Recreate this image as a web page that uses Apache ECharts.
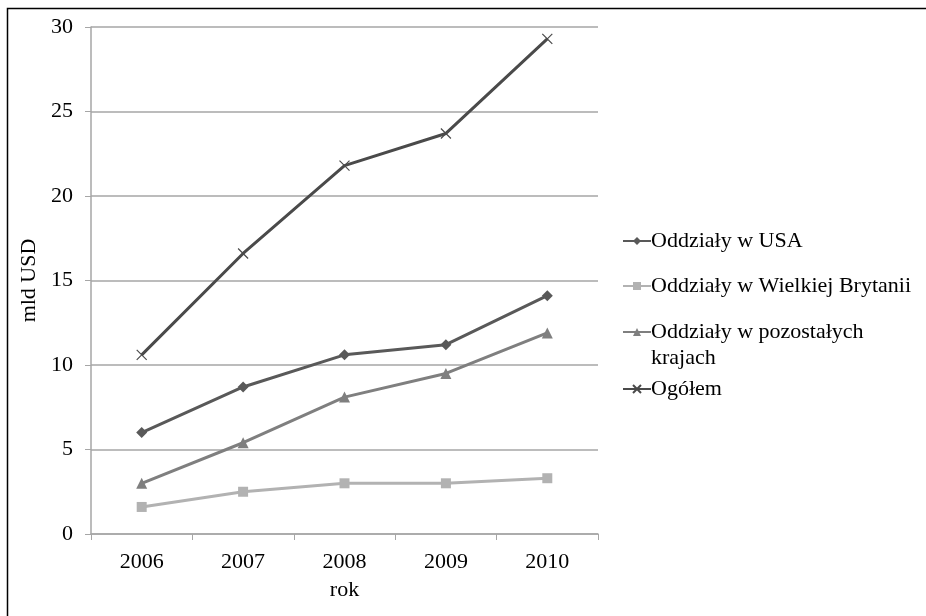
<!DOCTYPE html>
<html><head><meta charset="utf-8">
<script src="https://cdn.jsdelivr.net/npm/echarts@6/dist/echarts.min.js"></script>
<style>html,body{margin:0;padding:0;background:#fff}#c{width:926px;height:616px}</style>
</head><body><div id="c"></div>
<script>
const categories = ['2006','2007','2008','2009','2010'];
const usa = [6.0, 8.7, 10.6, 11.2, 14.1];
const uk = [1.6, 2.5, 3.0, 3.0, 3.3];
const other = [3.0, 5.4, 8.1, 9.5, 11.9];
const total = [10.6, 16.6, 21.8, 23.7, 29.3];
const names = ['Oddziały w USA','Oddziały w Wielkiej Brytanii','Oddziały w pozostałych krajach','Ogółem'];
const font = 'Liberation Serif, Times New Roman, serif';
const chart = echarts.init(document.getElementById('c'));
function s(name, data, color, symbol, size, extra){
  return Object.assign({name, type:'line', data, symbol, symbolSize:size, color,
    lineStyle:{color, width:3}, itemStyle:{color}, animation:false}, extra||{});
}
const ts = {fontFamily:font, fontSize:22, color:'#000'};
function leg(name, top, twoLine){
  const o = {orient:'vertical', left:622, top, padding:0, itemWidth:28, itemHeight:10, itemGap:0,
    textStyle:Object.assign({lineHeight:26, padding:[0,0,0,-5]}, ts),
    data:[name]};
  if (twoLine) {
    o.formatter = function(n){ const p = n.split(' '); return '{e|\u00a0}\n{a|' + p.slice(0,3).join(' ') + '}\n{a|' + p.slice(3).join(' ') + '}'; };
    o.textStyle.rich = {a:Object.assign({lineHeight:26}, ts), e:Object.assign({lineHeight:26}, ts)};
  }
  return o;
}
chart.setOption({
  animation:false,
  textStyle:{fontFamily:font},
  graphic:[{type:'rect', shape:{x:7.5,y:8.5,width:940,height:640}, style:{fill:null, stroke:'#000', lineWidth:1.5}}],
  grid:{left:91, right:328, top:27, bottom:82},
  legend:[
    leg(names[0], 228),
    leg(names[1], 273),
    leg(names[2], 293, true),
    leg(names[3], 376)
  ],
  xAxis:{type:'category', data:categories, boundaryGap:true,
    name:'rok', nameLocation:'middle', nameGap:45, nameTextStyle:ts,
    axisLine:{lineStyle:{color:'#a6a6a6', width:1.5}},
    axisTick:{show:true, alignWithLabel:false, length:6, lineStyle:{color:'#a6a6a6'}},
    axisLabel:Object.assign({margin:17}, ts)},
  yAxis:{type:'value', min:0, max:30, interval:5,
    name:'mld USD', nameLocation:'middle', nameGap:45, nameRotate:90, nameTextStyle:ts,
    axisLine:{show:true, lineStyle:{color:'#a6a6a6', width:1.5}},
    axisTick:{show:true, length:6, lineStyle:{color:'#a6a6a6'}},
    splitLine:{lineStyle:{color:'#a6a6a6', width:1.5}},
    axisLabel:Object.assign({margin:18}, ts)},
  series:[
    s(names[0], usa, '#595959', 'diamond', 11),
    s(names[1], uk, '#b2b2b2', 'rect', 10),
    s(names[2], other, '#7f7f7f', 'triangle', 11),
    s(names[3], total, '#4a4a4a', 'path://M0,0L10,10M10,0L0,10', 10,
      {itemStyle:{color:'#4a4a4a', borderColor:'#4a4a4a', borderWidth:1.2}})
  ]
});
</script></body></html>
